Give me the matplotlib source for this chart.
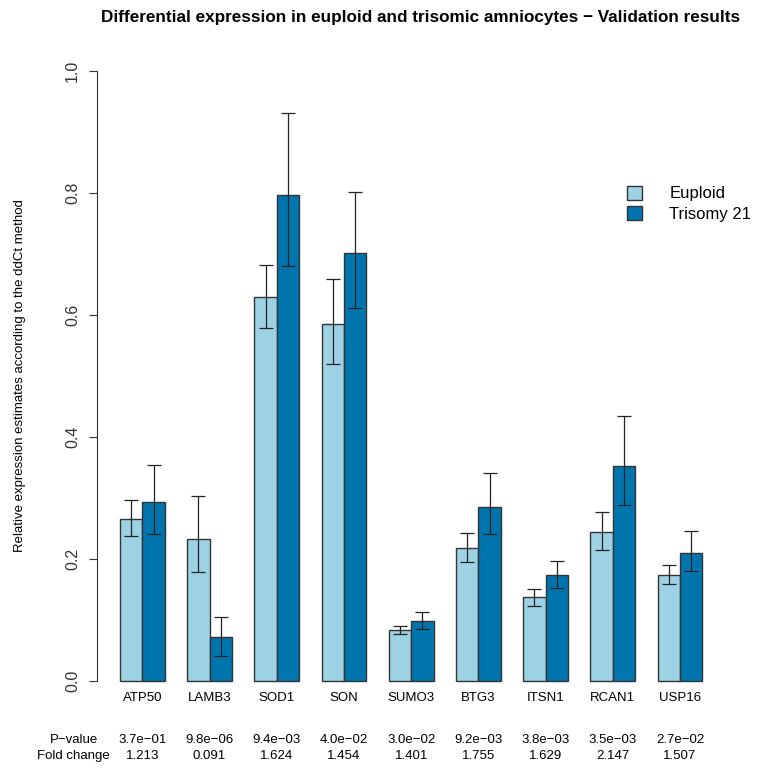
import numpy as np
import matplotlib
matplotlib.use("Agg")
import matplotlib.pyplot as plt

plt.rcParams["font.family"] = ["Liberation Sans", "DejaVu Sans"]

genes = ["ATP50", "LAMB3", "SOD1", "SON", "SUMO3", "BTG3", "ITSN1", "RCAN1", "USP16"]
euploid = [0.266, 0.232, 0.630, 0.585, 0.083, 0.218, 0.137, 0.244, 0.173]
euploid_lo = [0.237, 0.178, 0.578, 0.519, 0.076, 0.195, 0.123, 0.215, 0.158]
euploid_hi = [0.296, 0.303, 0.682, 0.659, 0.090, 0.242, 0.151, 0.276, 0.190]
trisomy = [0.293, 0.072, 0.797, 0.702, 0.098, 0.285, 0.173, 0.352, 0.210]
trisomy_lo = [0.240, 0.040, 0.680, 0.612, 0.085, 0.240, 0.152, 0.288, 0.180]
trisomy_hi = [0.354, 0.105, 0.932, 0.802, 0.113, 0.340, 0.196, 0.434, 0.245]
pvalues = ["3.7e\u221201", "9.8e\u221206", "9.4e\u221203", "4.0e\u221202", "3.0e\u221202",
           "9.2e\u221203", "3.8e\u221203", "3.5e\u221203", "2.7e\u221202"]
fold_change = ["1.213", "0.091", "1.624", "1.454", "1.401", "1.755", "1.629", "2.147", "1.507"]

col_eu = "#9dd1e4"
col_tri = "#0075ad"
edge = "#333333"

fig = plt.figure(figsize=(7.7, 7.73), dpi=100)
# plot region like R barplot (4% padding on both axes)
ax = fig.add_axes([96.7 / 770, 68 / 773, 629 / 770, 658 / 773])

n = len(genes)
x_eu = 1.5 + 3 * np.arange(n)
x_tri = 2.5 + 3 * np.arange(n)

ax.bar(x_eu, euploid, width=1, color=col_eu, edgecolor=edge, linewidth=1, label="Euploid")
ax.bar(x_tri, trisomy, width=1, color=col_tri, edgecolor=edge, linewidth=1, label="Trisomy 21")

eu = np.array(euploid)
tri = np.array(trisomy)
ax.errorbar(x_eu, eu, yerr=[eu - np.array(euploid_lo), np.array(euploid_hi) - eu],
            fmt="none", ecolor="#222222", elinewidth=0.9, capsize=5, capthick=0.9)
ax.errorbar(x_tri, tri, yerr=[tri - np.array(trisomy_lo), np.array(trisomy_hi) - tri],
            fmt="none", ecolor="#222222", elinewidth=0.9, capsize=5, capthick=0.9)

ax.set_xlim(-0.04, 28.04)
ax.set_ylim(-0.04, 1.04)

for s in ["top", "right", "bottom"]:
    ax.spines[s].set_visible(False)
ax.spines["left"].set_bounds(0, 1)
ax.spines["left"].set_color("#333333")
ax.set_yticks(np.arange(0, 1.01, 0.2))
ax.set_yticklabels([f"{v:.1f}" for v in np.arange(0, 1.01, 0.2)], rotation=90,
                   va="center", fontsize=11.5, color="#333333")
ax.tick_params(axis="y", length=6, pad=6, color="#333333")
ax.set_xticks([])

ax.set_ylabel("Relative expression estimates according to the ddCt method",
              fontsize=9.5, labelpad=28)

centers = 2 + 3 * np.arange(n)
for c, g, p, f in zip(centers, genes, pvalues, fold_change):
    ax.text(c, -0.029, g, ha="center", va="center", fontsize=9.5)
    ax.text(c, -0.097, p, ha="center", va="center", fontsize=9.5)
    ax.text(c, -0.123, f, ha="center", va="center", fontsize=9.5)
ax.text(-1.06, -0.097, "P\u2212value", ha="center", va="center", fontsize=9.5, clip_on=False)
ax.text(-1.06, -0.123, "Fold change", ha="center", va="center", fontsize=9.5, clip_on=False)

ax.legend(loc="upper left", bbox_to_anchor=(0.82, 0.812), frameon=False, fontsize=12,
          handlelength=0.9, handleheight=0.9, handletextpad=1.6, labelspacing=0.3)

fig.text(0.546, 0.978, "Differential expression in euploid and trisomic amniocytes \u2212 Validation results",
         ha="center", va="center", fontsize=12.3, fontweight="bold")

fig.savefig("out.png", dpi=100)
